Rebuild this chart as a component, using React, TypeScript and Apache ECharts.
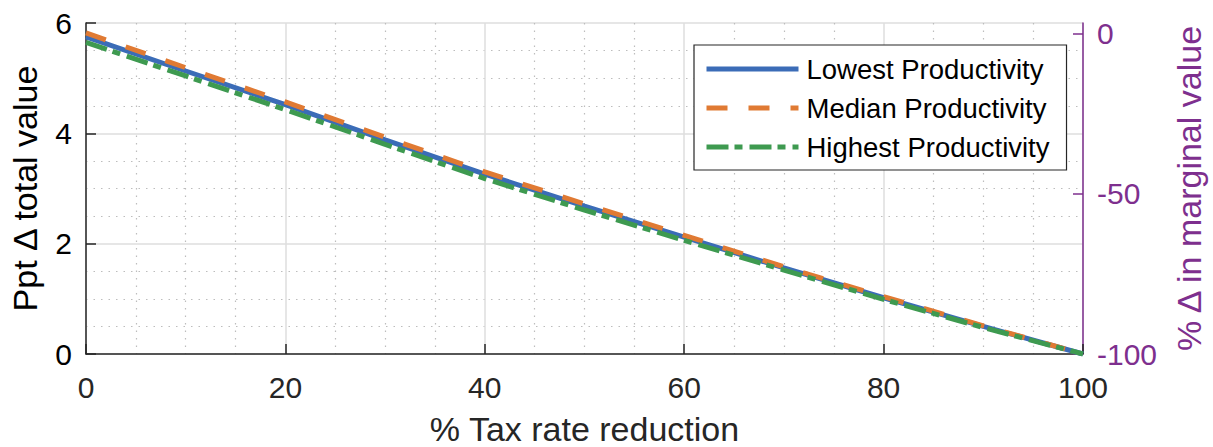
import React, { useEffect, useRef } from "react";
import * as echarts from "echarts";

const xValues = [0, 10, 20, 30, 40, 50, 60, 70, 80, 90, 100];
const lowest = [5.75, 5.13, 4.52, 3.88, 3.26, 2.68, 2.12, 1.56, 1.02, 0.5, 0];
const median = [5.82, 5.19, 4.57, 3.93, 3.3, 2.72, 2.15, 1.58, 1.04, 0.51, 0];
const highest = [5.65, 5.04, 4.43, 3.8, 3.18, 2.61, 2.06, 1.52, 0.99, 0.48, 0];
const seriesNames = ["Lowest Productivity", "Median Productivity", "Highest Productivity"];
const rightTicks = [-100, -50, 0];

const FONT = "'Liberation Sans', Arial, Helvetica, sans-serif";
const TXT = "#262626";
const PURPLE = "#7e2f8e";

export default function App() {
  const ref = useRef<HTMLDivElement>(null);
  useEffect(() => {
    if (!ref.current) return;
    const chart = echarts.init(ref.current, undefined, { renderer: "svg" });
    const toPairs = (ys: number[]) => xValues.map((x, i) => [x, ys[i]]);
    chart.setOption({
      animation: false,
      textStyle: { fontFamily: FONT },
      grid: { left: 86, right: 130, top: 23, bottom: 93, outerBoundsMode: "none", containLabel: false },
      legend: {
        orient: "vertical",
        left: 694,
        top: 45,
        data: seriesNames,
        itemWidth: 92,
        itemHeight: 14,
        itemGap: 9,
        padding: [9, 17, 8, 10],
        backgroundColor: "#ffffff",
        borderColor: "#262626",
        borderWidth: 1.2,
        borderRadius: 0,
        lineStyle: { width: 5 },
        itemStyle: { opacity: 0 },
        textStyle: { fontSize: 27.5, color: "#000", fontFamily: FONT, lineHeight: 30, padding: [0, 0, 0, 3] },
        selectedMode: false,
      },
      xAxis: {
        type: "value",
        min: 0,
        max: 100,
        interval: 20,
        name: "% Tax rate reduction",
        nameLocation: "middle",
        nameGap: 58,
        nameTextStyle: { fontSize: 34, color: TXT, fontFamily: FONT },
        axisLine: { show: true, onZero: false, lineStyle: { color: TXT, width: 1.5 } },
        axisTick: { show: true, inside: true, length: 10, lineStyle: { color: TXT, width: 1.5 } },
        axisLabel: { fontSize: 30, color: TXT, margin: 18, fontFamily: FONT },
        splitLine: { show: true, lineStyle: { color: "#dedede", width: 1.5 } },
        minorTick: { show: false, splitNumber: 4 },
        minorSplitLine: { show: true, lineStyle: { color: "#bdbdbd", width: 1.2, type: [1.5, 6] } },
      },
      yAxis: [
        {
          type: "value",
          min: 0,
          max: 6,
          interval: 2,
          position: "left",
          name: "Ppt \u0394 total value",
          nameLocation: "middle",
          nameRotate: 90,
          nameGap: 44,
          nameTextStyle: { fontSize: 34, color: "#000", fontFamily: FONT },
          axisLine: { show: true, lineStyle: { color: TXT, width: 1.5 } },
          axisTick: { show: true, inside: true, length: 10, lineStyle: { color: TXT, width: 1.5 } },
          axisLabel: { fontSize: 30, color: "#000", margin: 14, fontFamily: FONT },
          splitLine: { show: true, lineStyle: { color: "#dedede", width: 1.5 } },
          minorTick: { show: false, splitNumber: 4 },
          minorSplitLine: { show: true, lineStyle: { color: "#bdbdbd", width: 1.2, type: [1.5, 6] } },
        },
        {
          type: "value",
          min: -100,
          max: 3.3,
          interval: 50,
          position: "right",
          name: "% \u0394 in marginal value",
          nameLocation: "middle",
          nameRotate: 90,
          nameGap: 89,
          nameTextStyle: { fontSize: 34, color: PURPLE, fontFamily: FONT },
          axisLine: { show: true, lineStyle: { color: PURPLE, width: 1.5 } },
          axisTick: { show: true, inside: true, length: 10, customValues: rightTicks, lineStyle: { color: PURPLE, width: 1.5 } },
          axisLabel: { fontSize: 30, color: PURPLE, margin: 14, fontFamily: FONT, customValues: rightTicks },
          splitLine: { show: false },
        },
      ],
      series: [
        {
          name: seriesNames[0],
          type: "line",
          data: toPairs(lowest),
          symbol: "none",
          silent: true,
          color: "#3b6cb7",
          lineStyle: { color: "#3b6cb7", width: 5 },
        },
        {
          name: seriesNames[1],
          type: "line",
          data: toPairs(median),
          symbol: "none",
          silent: true,
          color: "#e07a33",
          lineStyle: { color: "#e07a33", width: 5, type: [21, 21] },
        },
        {
          name: seriesNames[2],
          type: "line",
          data: toPairs(highest),
          symbol: "none",
          silent: true,
          color: "#3e9a50",
          lineStyle: { color: "#3e9a50", width: 5, type: [22, 6, 8, 7] },
        },
      ],
    });
    return () => chart.dispose();
  }, []);
  return <div ref={ref} style={{ width: 1213, height: 447, position: "absolute", left: 0, top: 0, background: "#fff" }} />;
}
